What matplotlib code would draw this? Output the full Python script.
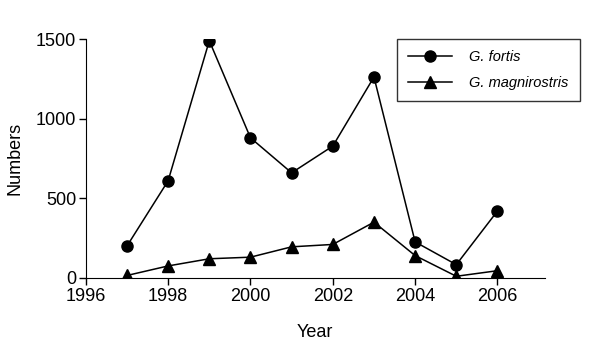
import numpy as np
import matplotlib
matplotlib.use('Agg')
from matplotlib import pyplot as plt

plt.rcParams['font.family'] = ['Liberation Sans', 'DejaVu Sans']

years = [1997, 1998, 1999, 2000, 2001, 2002, 2003, 2004, 2005, 2006]
fortis = [200, 610, 1490, 880, 660, 828, 1262, 226, 83, 420]
magnirostris = [15, 75, 120, 130, 195, 210, 350, 140, 10, 45]

fig = plt.figure(figsize=(6, 3.59), dpi=100)
ax = fig.add_axes([0.143, 0.226, 0.765, 0.665])

ax.plot(years, fortis, color='black', lw=1.1, marker='o', ms=8, label='G. fortis')
ax.plot(years, magnirostris, color='black', lw=1.1, marker='^', ms=8, label='G. magnirostris')

ax.set_xlim(1996, 2007.15)
ax.set_ylim(0, 1500)
ax.set_xticks([1996, 1998, 2000, 2002, 2004, 2006])
ax.set_yticks([0, 500, 1000, 1500])
for s in ['top', 'right']:
    ax.spines[s].set_visible(False)
ax.tick_params(labelsize=13, length=5, width=1, pad=2)
ax.set_xlabel('Year', fontsize=13, labelpad=14)
ax.set_ylabel('Numbers', fontsize=13, labelpad=9)

leg = ax.legend(loc='upper left', bbox_to_anchor=(0.662, 0.891), bbox_transform=fig.transFigure,
                prop={'style': 'italic', 'size': 10.5}, fancybox=False, edgecolor='black',
                handlelength=3, borderpad=0.75, labelspacing=0.85, handletextpad=1.2,
                borderaxespad=0)
leg.get_frame().set_linewidth(1)

fig.savefig('out.png', dpi=100, facecolor='white')
